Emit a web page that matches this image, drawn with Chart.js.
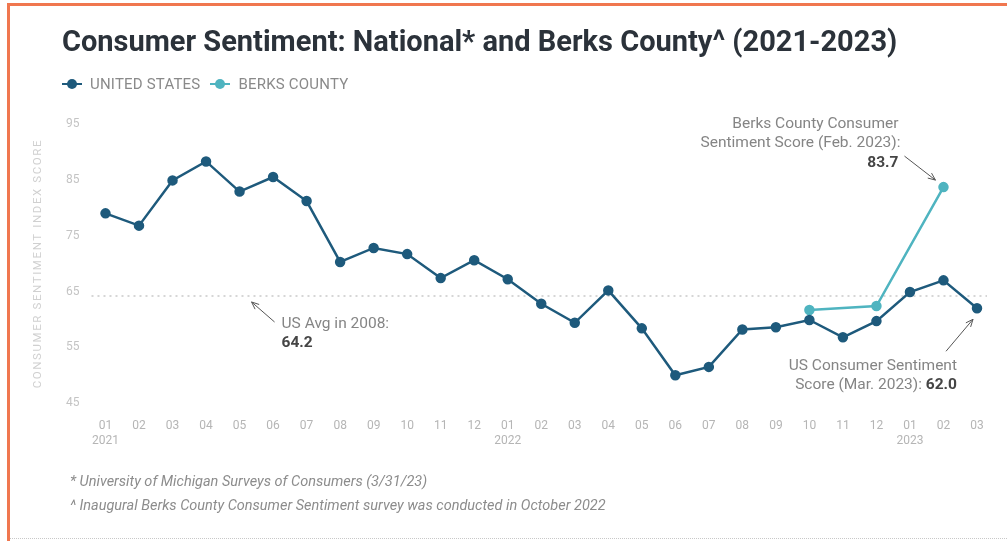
<!DOCTYPE html>
<html>
<head>
<meta charset="utf-8">
<script src="https://cdn.jsdelivr.net/npm/chart.js@4.4.1/dist/chart.umd.min.js"></script>
<style>
  html, body { margin: 0; padding: 0; background: #fff; }
  #page { position: relative; width: 1007px; height: 541px; overflow: hidden; font-family: Roboto, "Open Sans", sans-serif; }
  #frame { position: absolute; left: 7px; top: 3px; right: -5px; bottom: -5px; border-top: 3px solid #f0774f; border-left: 3px solid #f0774f; }
  #title { position: absolute; left: 62px; top: 24px; font-size: 29px; font-weight: 700; color: #2b323a; white-space: nowrap; }
  #legend { position: absolute; left: 62px; top: 75px; display: flex; gap: 10px; font-size: 15px; color: #8a8a8a; letter-spacing: 0.2px; }
  #legend .item { display: flex; align-items: center; }
  #legend .mark { position: relative; width: 20px; height: 10px; margin-right: 8px; }
  #legend .mark .ln { position: absolute; left: 0; right: 0; top: 4px; height: 2px; }
  #legend .mark .dt { position: absolute; left: 5px; top: 0; width: 10px; height: 10px; border-radius: 50%; }
  #chart { position: absolute; left: 0; top: 0; }
  .note { position: absolute; left: 70px; font-size: 14.5px; font-style: italic; color: #8c8c8c; }
  #bottomline { position: absolute; left: 10px; right: 0; top: 538px; border-top: 1px dotted #c8c8c8; }
</style>
</head>
<body>
<div id="page">
  <div id="frame"></div>
  <canvas id="chart" width="1007" height="541"></canvas>
  <div id="title">Consumer Sentiment: National* and Berks County^ (2021-2023)</div>
  <div id="legend"></div>
  <div class="note" style="top:473px">* University of Michigan Surveys of Consumers (3/31/23)</div>
  <div class="note" style="top:497px">^ Inaugural Berks County Consumer Sentiment survey was conducted in October 2022</div>
  <div id="bottomline"></div>
</div>
<script>
// months shown on the x axis (year printed under each january)
const months = ['01','02','03','04','05','06','07','08','09','10','11','12',
                '01','02','03','04','05','06','07','08','09','10','11','12',
                '01','02','03'];
const years = ['2021','','','','','','','','','','','',
               '2022','','','','','','','','','','','',
               '2023','',''];
// index scores
const usValues = [79.0, 76.8, 84.9, 88.3, 82.9, 85.5, 81.2, 70.3, 72.8, 71.7, 67.4, 70.6,
                  67.2, 62.8, 59.4, 65.2, 58.4, 50.0, 51.5, 58.2, 58.6, 59.9, 56.8, 59.7,
                  64.9, 67.0, 62.0];
const berksValues = [null, null, null, null, null, null, null, null, null, null, null, null,
                     null, null, null, null, null, null, null, null, null, 61.7, null, 62.4,
                     null, 83.7, null];
const usAvg2008 = 64.2;
const yTicks = [45, 55, 65, 75, 85, 95];
const yTitle = 'CONSUMER SENTIMENT INDEX SCORE';

const usColor = '#1e5a7c';
const berksColor = '#4fb4c0';

const labels = months.map((m, i) => years[i] ? [m, years[i]] : m);

// dotted 2008 average line, spaced-out axis title + callouts
const extras = {
  id: 'extras',
  beforeDatasetsDraw(chart) {
    const ctx = chart.ctx;
    const area = chart.chartArea;
    const y = chart.scales.y.getPixelForValue(usAvg2008);
    ctx.save();
    ctx.strokeStyle = '#c9c9c9';
    ctx.lineWidth = 1.5;
    ctx.setLineDash([2, 4]);
    ctx.beginPath();
    ctx.moveTo(area.left - 14, y);
    ctx.lineTo(area.right + 10, y);
    ctx.stroke();
    ctx.restore();

    // y axis title with letter spacing
    ctx.save();
    ctx.translate(38, (area.top + area.bottom) / 2);
    ctx.rotate(-Math.PI / 2);
    ctx.font = '11.5px Roboto, sans-serif';
    ctx.letterSpacing = '1.6px';
    ctx.fillStyle = '#d0d0d0';
    ctx.textAlign = 'center';
    ctx.textBaseline = 'middle';
    ctx.fillText(yTitle, 0, 0);
    ctx.restore();
  },
  afterDatasetsDraw(chart) {
    const ctx = chart.ctx;
    const xs = chart.scales.x, ys = chart.scales.y;
    const usMeta = chart.getDatasetMeta(0);
    const bkMeta = chart.getDatasetMeta(1);
    const pBerks = bkMeta.data[25];
    const pUs = usMeta.data[26];
    const avgY = ys.getPixelForValue(usAvg2008);
    const avgX = xs.getPixelForValue(4);

    function arrow(x1, y1, x2, y2) {
      ctx.save();
      ctx.strokeStyle = '#555';
      ctx.lineWidth = 1;
      ctx.beginPath();
      ctx.moveTo(x1, y1);
      ctx.lineTo(x2, y2);
      ctx.stroke();
      const a = Math.atan2(y2 - y1, x2 - x1);
      ctx.beginPath();
      ctx.moveTo(x2, y2);
      ctx.lineTo(x2 - 8 * Math.cos(a - 0.4), y2 - 8 * Math.sin(a - 0.4));
      ctx.moveTo(x2, y2);
      ctx.lineTo(x2 - 8 * Math.cos(a + 0.4), y2 - 8 * Math.sin(a + 0.4));
      ctx.stroke();
      ctx.restore();
    }

    ctx.save();
    ctx.textBaseline = 'middle';
    const normal = '15.5px Roboto, sans-serif';
    const bold = 'bold 15.5px Roboto, sans-serif';
    const grey = '#858585';
    const dark = '#454545';

    // Berks callout
    ctx.textAlign = 'right';
    ctx.font = normal;
    ctx.fillStyle = grey;
    const bx = pBerks.x - 45;
    ctx.fillText('Berks County Consumer', bx, pBerks.y - 63);
    ctx.fillText('Sentiment Score (Feb. 2023):', bx + 2, pBerks.y - 44);
    ctx.font = bold;
    ctx.fillStyle = dark;
    ctx.fillText('83.7', bx, pBerks.y - 24);
    arrow(pBerks.x - 39, pBerks.y - 31, pBerks.x - 8, pBerks.y - 7);

    // US March callout
    const ux = pUs.x - 20;
    ctx.font = normal;
    ctx.fillStyle = grey;
    ctx.fillText('US Consumer Sentiment', ux, pUs.y + 58);
    ctx.font = bold;
    const valW = ctx.measureText(' 62.0').width;
    ctx.fillStyle = dark;
    ctx.fillText(' 62.0', ux, pUs.y + 77);
    ctx.font = normal;
    ctx.fillStyle = grey;
    ctx.fillText('Score (Mar. 2023):', ux - valW, pUs.y + 77);
    arrow(pUs.x - 31, pUs.y + 43, pUs.x - 4, pUs.y + 11);

    // 2008 average callout
    ctx.textAlign = 'left';
    const ax = avgX + 42;
    ctx.fillStyle = grey;
    ctx.fillText('US Avg in 2008:', ax, avgY + 28);
    ctx.font = bold;
    ctx.fillStyle = dark;
    ctx.fillText('64.2', ax, avgY + 47);
    arrow(ax - 7, avgY + 26, ax - 30, avgY + 6);
    ctx.restore();
  }
};

const chart = new Chart(document.getElementById('chart'), {
  type: 'line',
  data: {
    labels: labels,
    datasets: [
      {
        label: 'UNITED STATES',
        data: usValues,
        borderColor: usColor,
        backgroundColor: usColor,
        borderWidth: 2.5,
        pointRadius: 4,
        pointHoverRadius: 4,
        tension: 0
      },
      {
        label: 'BERKS COUNTY',
        data: berksValues,
        borderColor: berksColor,
        backgroundColor: berksColor,
        borderWidth: 2.5,
        pointRadius: 4,
        pointHoverRadius: 4,
        spanGaps: true,
        tension: 0
      }
    ]
  },
  options: {
    responsive: false,
    animation: false,
    layout: { padding: { left: 48, right: 30, top: 124, bottom: 85 } },
    plugins: {
      legend: { display: false },
      tooltip: { enabled: false }
    },
    scales: {
      x: {
        offset: false,
        grid: { display: false },
        border: { display: false },
        ticks: {
          color: '#b5b5b5',
          font: { family: 'Roboto', size: 12 },
          maxRotation: 0,
          autoSkip: false,
          padding: 8
        }
      },
      y: {
        min: 45,
        max: 95,
        afterBuildTicks(axis) { axis.ticks = yTicks.map(v => ({ value: v })); },
        grid: { display: false },
        border: { display: false },
        ticks: {
          color: '#c4c4c4',
          font: { family: 'Roboto', size: 12 },
          padding: 18
        }
      }
    }
  },
  plugins: [extras]
});

// html legend built from the datasets
const legendBox = document.getElementById('legend');
chart.data.datasets.forEach(ds => {
  const item = document.createElement('div');
  item.className = 'item';
  item.innerHTML = '<span class="mark"><span class="ln" style="background:' + ds.borderColor +
    '"></span><span class="dt" style="background:' + ds.borderColor + '"></span></span>' + ds.label;
  legendBox.appendChild(item);
});
</script>
</body>
</html>
